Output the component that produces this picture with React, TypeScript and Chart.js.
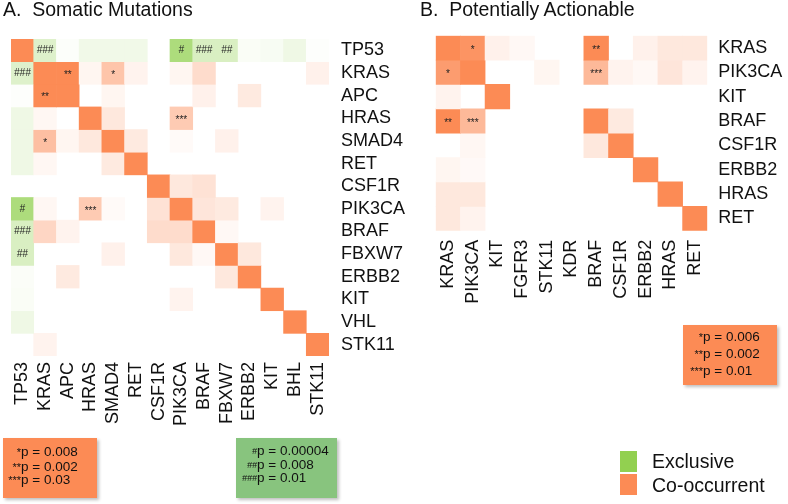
import React, { useEffect, useRef } from "react";
import { Chart, registerables } from "chart.js";
Chart.register(...registerables);

// ---------- DATA ----------
const somaticRows = ["TP53", "KRAS", "APC", "HRAS", "SMAD4", "RET", "CSF1R", "PIK3CA", "BRAF", "FBXW7", "ERBB2", "KIT", "VHL", "STK11"];
const somaticCols = ["TP53", "KRAS", "APC", "HRAS", "SMAD4", "RET", "CSF1R", "PIK3CA", "BRAF", "FBXW7", "ERBB2", "KIT", "BHL", "STK11"];
// signed strength: positive = co-occurrent (orange), negative = exclusive (green)
const somaticValues = [
  [1, -0.3, -0.03, -0.13, -0.13, -0.13, 0, -0.75, -0.35, -0.35, -0.05, -0.07, -0.15, -0.02],
  [-0.3, 1, 1, 0.08, 0.5, 0.1, 0, 0.08, 0.3, 0, 0, 0, 0, 0.12],
  [-0.02, 1, 1, 0, 0.08, 0, 0, 0, 0.12, 0, 0.18, 0, 0, 0],
  [-0.15, 0.07, 0, 1, 0.2, 0, 0, 0.45, 0, 0, 0, 0, 0, 0],
  [-0.15, 0.55, 0.08, 0.2, 1, 0.18, 0, 0.04, 0, 0.12, 0, 0, 0, 0],
  [-0.15, 0.07, 0, 0, 0.18, 1, 0, 0, 0, 0, 0, 0, 0, 0],
  [0, 0, 0, 0, 0, 0, 1, 0.2, 0.25, 0, 0, 0, 0, 0],
  [-0.75, 0.07, 0, 0.45, 0.04, 0, 0.25, 1, 0.22, 0.18, 0, 0.1, 0, 0],
  [-0.35, 0.35, 0.1, 0, 0, 0, 0.3, 0.3, 1, 0.06, 0, 0, 0, 0],
  [-0.35, 0, 0, 0, 0.12, 0, 0, 0.2, 0.06, 1, 0.2, 0, 0, 0],
  [-0.04, 0, 0.18, 0, 0, 0, 0, 0, 0, 0.2, 1, 0, 0, 0],
  [-0.05, 0, 0, 0, 0, 0, 0, 0.1, 0, 0, 0, 1, 0, 0],
  [-0.15, 0, 0, 0, 0, 0, 0, 0, 0, 0, 0, 0, 1, 0],
  [0, 0.1, 0, 0, 0, 0, 0, 0, 0, 0, 0, 0, 0, 1],
];
const somaticMarks: [number, number, string][] = [
  [0, 1, "###"], [0, 7, "#"], [0, 8, "###"], [0, 9, "##"],
  [1, 0, "###"], [1, 2, "**"], [1, 4, "*"], [2, 1, "**"],
  [3, 7, "***"], [4, 1, "*"], [7, 0, "#"], [7, 3, "***"],
  [8, 0, "###"], [9, 0, "##"],
];

const actionRows = ["KRAS", "PIK3CA", "KIT", "BRAF", "CSF1R", "ERBB2", "HRAS", "RET"];
const actionCols = ["KRAS", "PIK3CA", "KIT", "FGFR3", "STK11", "KDR", "BRAF", "CSF1R", "ERBB2", "HRAS", "RET"];
const actionValues = [
  [1, 0.92, 0.12, 0.06, 0, 0, 1, 0, 0.12, 0.2, 0.2],
  [0.85, 1, 0, 0, 0.08, 0, 0.6, 0.1, 0.06, 0.22, 0.1],
  [0.1, 0, 1, 0, 0, 0, 0, 0, 0, 0, 0],
  [1, 0.6, 0, 0, 0, 0, 1, 0.18, 0, 0, 0],
  [0, 0.07, 0, 0, 0, 0, 0.2, 1, 0, 0, 0],
  [0.08, 0.05, 0, 0, 0, 0, 0, 0, 1, 0, 0],
  [0.2, 0.2, 0, 0, 0, 0, 0, 0, 0, 1, 0],
  [0.2, 0.1, 0, 0, 0, 0, 0, 0, 0, 0, 1],
];
const actionMarks: [number, number, string][] = [
  [0, 1, "*"], [0, 6, "**"], [1, 0, "*"], [1, 6, "***"], [3, 0, "**"], [3, 1, "***"],
];

const somaticCoPvals: [string, string][] = [["*", "p = 0.008"], ["**", "p = 0.002"], ["***", "p = 0.03"]];
const somaticExPvals: [string, string][] = [["#", "p = 0.00004"], ["##", "p = 0.008"], ["###", "p = 0.01"]];
const actionCoPvals: [string, string][] = [["*", "p = 0.006"], ["**", "p = 0.002"], ["***", "p = 0.01"]];
const legendLabels = ["Exclusive", "Co-occurrent"];

// ---------- STYLE ----------
const ORANGE = [252, 139, 85];
const GREEN = [146, 208, 80];
const FONT = "'Liberation Sans', Arial, sans-serif";

function cellColor(v: number): string {
  if (v === 0) return "rgba(255,255,255,0)";
  const base = v > 0 ? ORANGE : GREEN;
  const a = Math.min(1, Math.abs(v));
  const c = base.map((b) => Math.round(255 - (255 - b) * a));
  return `rgb(${c[0]},${c[1]},${c[2]})`;
}

function buildConfig(
  rows: string[], cols: string[], values: number[][], marks: [number, number, string][],
  dims: { padLeft: number; padTop: number; yW: number; xH: number; xPad: number; yPad: number }
): any {
  const marksPlugin = {
    id: "cellMarks",
    afterDatasetsDraw(chart: any) {
      const ctx = chart.ctx;
      ctx.save();
      ctx.fillStyle = "#222";
      ctx.textAlign = "center";
      ctx.textBaseline = "middle";
      marks.forEach(([r, c, t]) => {
        const el = chart.getDatasetMeta(r).data[c];
        if (!el) return;
        const x = el.x;
        const y = (el.y + el.base) / 2;
        ctx.font = (t.startsWith("#") ? "italic " : "") + "10px " + FONT;
        ctx.fillText(t, x, y + (t.startsWith("*") ? 2 : 0));
      });
      ctx.restore();
    },
  };
  return {
    type: "bar",
    data: {
      labels: cols,
      datasets: rows.map((r, i) => ({
        label: r,
        data: cols.map(() => 1),
        backgroundColor: values[i].map(cellColor),
        borderWidth: 0,
        barPercentage: 1,
        categoryPercentage: 1,
        stack: "grid",
      })),
    },
    options: {
      responsive: false,
      animation: false,
      devicePixelRatio: 1,
      layout: { padding: { left: dims.padLeft, top: dims.padTop, right: 0, bottom: 0 } },
      plugins: { legend: { display: false }, tooltip: { enabled: false }, title: { display: false } },
      scales: {
        x: {
          type: "category",
          stacked: true,
          grid: { display: false, drawTicks: false },
          border: { display: false },
          ticks: {
            autoSkip: false,
            minRotation: 90,
            maxRotation: 90,
            padding: dims.xPad,
            color: "#111",
            font: { family: FONT, size: 18 },
          },
          afterFit: (s: any) => { s.height = dims.xH; },
        },
        y: {
          type: "linear",
          stacked: true,
          reverse: true,
          min: 0,
          max: rows.length,
          position: "right",
          grid: { display: false, drawTicks: false },
          border: { display: false },
          afterBuildTicks: (s: any) => { s.ticks = rows.map((_, i) => ({ value: i + 0.5 })); },
          ticks: {
            autoSkip: false,
            padding: dims.yPad,
            color: "#111",
            font: { family: FONT, size: 18 },
            callback: (_v: any, i: number) => rows[i],
          },
          afterFit: (s: any) => { s.width = dims.yW; },
        },
      },
    },
    plugins: [marksPlugin],
  };
}

function Heatmap(props: { left: number; width: number; config: any }) {
  const ref = useRef<HTMLCanvasElement>(null);
  useEffect(() => {
    const chart = new Chart(ref.current as HTMLCanvasElement, props.config);
    return () => chart.destroy();
  }, []);
  return (
    <canvas
      ref={ref}
      width={props.width}
      height={504}
      style={{ position: "absolute", left: props.left, top: 0, width: props.width, height: 504 }}
    />
  );
}

function PBox(props: { left: number; top: number; width: number; bg: string; pX: number; lines: [string, string][]; tops: number[] }) {
  return (
    <div
      style={{
        position: "absolute", left: props.left, top: props.top, width: props.width, height: 60,
        background: props.bg, boxShadow: "2px 2px 3px rgba(0,0,0,0.25)",
      }}
    >
      {props.lines.map(([sym, txt], i) => (
        <div key={i} style={{ position: "absolute", left: 0, top: props.tops[i], height: 14, width: "100%", font: `13.5px ${FONT}`, lineHeight: "14px", color: "#111" }}>
          <span style={{ position: "absolute", right: props.width - props.pX, top: 0, fontSize: sym.startsWith("#") ? 9 : 11, fontStyle: sym.startsWith("#") ? "italic" : "normal" }}>{sym}</span>
          <span style={{ position: "absolute", left: props.pX, top: 0, whiteSpace: "pre" }}>{txt}</span>
        </div>
      ))}
    </div>
  );
}

export default function App() {
  const leftConfig = buildConfig(somaticRows, somaticCols, somaticValues, somaticMarks,
    { padLeft: 11, padTop: 39, yW: 91, xH: 148, xPad: 6, yPad: 12 });
  const rightConfig = buildConfig(actionRows, actionCols, actionValues, actionMarks,
    { padLeft: 35.7, padTop: 35.7, yW: 80.7, xH: 273.3, xPad: 9, yPad: 11 });
  const titleStyle: any = { position: "absolute", top: -2, font: `19.5px ${FONT}`, lineHeight: "22px", whiteSpace: "pre", color: "#111" };
  return (
    <div style={{ position: "fixed", left: 0, top: 0, width: 788, height: 504, background: "#fff", overflow: "hidden" }}>
      <Heatmap left={0} width={420} config={leftConfig} />
      <Heatmap left={400} width={388} config={rightConfig} />
      <div style={{ ...titleStyle, left: 3 }}>{"A.  Somatic Mutations"}</div>
      <div style={{ ...titleStyle, left: 420 }}>{"B.  Potentially Actionable"}</div>
      <PBox left={3} top={438} width={94} bg={`rgb(${ORANGE.join(",")})`} pX={18} lines={somaticCoPvals} tops={[7, 21.5, 35]} />
      <PBox left={236} top={438} width={101} bg="rgb(136,196,126)" pX={21} lines={somaticExPvals} tops={[6, 19.5, 33]} />
      <PBox left={683} top={325} width={94} bg={`rgb(${ORANGE.join(",")})`} pX={20} lines={actionCoPvals} tops={[5, 21.5, 39]} />
      {legendLabels.map((lab, i) => (
        <React.Fragment key={lab}>
          <div style={{ position: "absolute", left: 620, top: 451 + i * 23, width: 17, height: 21, background: i === 0 ? `rgb(${GREEN.join(",")})` : `rgb(${ORANGE.join(",")})` }} />
          <div style={{ position: "absolute", left: 652, top: 450 + i * 24, font: `19.5px ${FONT}`, lineHeight: "22px", color: "#111", whiteSpace: "pre" }}>{lab}</div>
        </React.Fragment>
      ))}
    </div>
  );
}
